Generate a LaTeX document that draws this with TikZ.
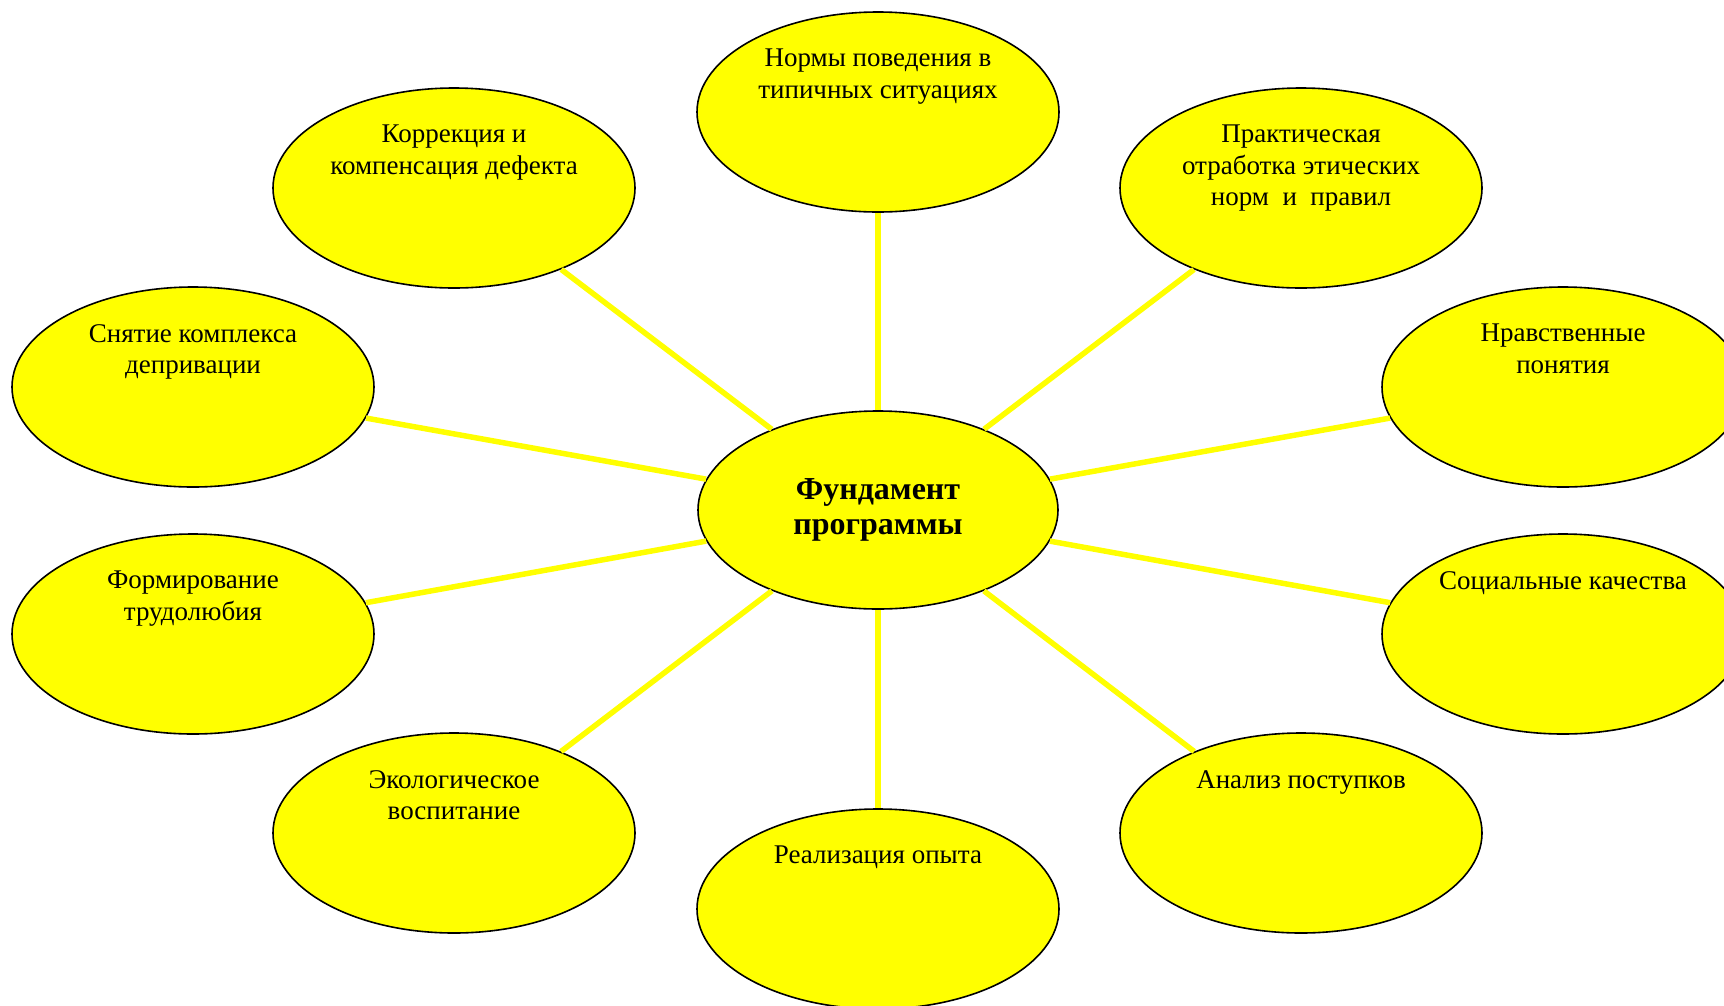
\documentclass[tikz,border=0pt]{standalone}
\usepackage{fontspec}
\setmainfont{Liberation Serif}
\usetikzlibrary{shapes.geometric}
\definecolor{sunyellow}{RGB}{255,255,0}
\tikzset{
  bubble/.style={ellipse, draw=black, line width=1.6pt, fill=sunyellow,
    minimum width=362pt, minimum height=200pt, inner sep=0pt},
  hub/.style={bubble, minimum width=360pt, minimum height=198pt},
  ray/.style={draw=sunyellow, line width=5.5pt},
  lbl/.style={anchor=north, inner sep=0pt, align=center,
    font=\fontsize{27}{31.4}\selectfont},
  hublbl/.style={inner sep=0pt, align=center,
    font=\bfseries\fontsize{32}{35.5}\selectfont}
}
\begin{document}
\begin{tikzpicture}[x=1pt,y=-1pt]
\useasboundingbox (0,0) rectangle (1724,1005);
\clip (0,0) rectangle (1724,1005);
% outer bubbles
\node[bubble] (n1) at (878,112) {};
\node[bubble] (n2) at (1301,188) {};
\node[bubble] (n3) at (1563,387) {};
\node[bubble] (n4) at (1563,634) {};
\node[bubble] (n5) at (1301,833) {};
\node[bubble] (n6) at (878,909) {};
\node[bubble] (n7) at (454,833) {};
\node[bubble] (n8) at (193,634) {};
\node[bubble] (n9) at (193,387) {};
\node[bubble] (n10) at (454,188) {};
\node[hub] (c) at (878,510) {};
% rays
\foreach \n in {n1,n2,n3,n4,n5,n6,n7,n8,n9,n10}
  \draw[ray] (c) -- (\n);
% labels
\node[lbl] (t1) at (878,49) {Нормы поведения в\\типичных ситуациях};
\node[lbl] (t2) at (1301,125) {Практическая\\отработка этических\\норм~~и~~правил};
\node[lbl] (t3) at (1563,324) {Нравственные\\понятия};
\node[lbl] (t4) at (1563,571) {Социальные качества};
\node[lbl] (t5) at (1301,770) {Анализ поступков};
\node[lbl] (t6) at (878,846) {Реализация опыта};
\node[lbl] (t7) at (454,770) {Экологическое\\воспитание};
\node[lbl] (t8) at (193,571) {Формирование\\трудолюбия};
\node[lbl] (t9) at (193,324) {Снятие комплекса\\депривации};
\node[lbl] (t10) at (454,125) {Коррекция и\\компенсация дефекта};
\node[hublbl] (tc) at (878,510) {Фундамент\\программы};
\end{tikzpicture}
\end{document}
